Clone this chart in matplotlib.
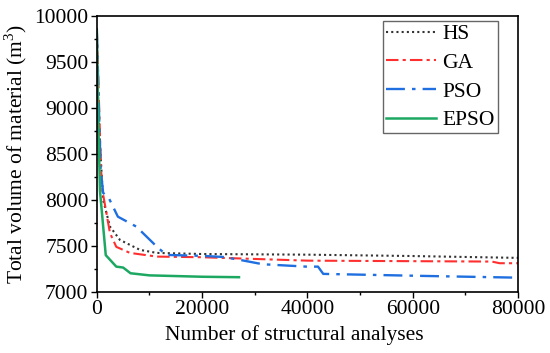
import matplotlib
matplotlib.use("Agg")
import matplotlib.pyplot as plt
from matplotlib.ticker import MultipleLocator

plt.rcParams['font.family'] = ['Liberation Serif', 'DejaVu Serif']
plt.rcParams['mathtext.fontset'] = 'custom'
plt.rcParams['mathtext.rm'] = 'Liberation Serif'

# HS
hs_x = [0, 300, 700, 1200, 2500, 4400, 8200, 11400, 20000, 40000, 60000, 80000]
hs_y = [9800, 9000, 8500, 8000, 7710, 7565, 7457, 7424, 7412, 7405, 7390, 7370]

# GA
ga_x = [0, 300, 600, 950, 2500, 3700, 6300, 11400, 20000, 40000, 75000, 76500, 80000]
ga_y = [9870, 9300, 8700, 8140, 7640, 7490, 7424, 7384, 7377, 7340, 7330, 7312, 7312]

# PSO
pso_x = [0, 300, 700, 1200, 2200, 4000, 7500, 11400, 13200, 20000, 24000,
         27200, 31500, 39800, 42000, 43000, 62000, 80000]
pso_y = [9850, 9200, 8360, 8076, 8030, 7818, 7710, 7492, 7402, 7392, 7380,
         7348, 7301, 7275, 7275, 7196, 7174, 7155]

# EPSO
epso_x = [0, 300, 600, 1700, 3700, 5000, 6400, 10000, 20000, 27000]
epso_y = [9850, 8800, 8100, 7400, 7275, 7265, 7203, 7180, 7165, 7160]

fs = 15.5

fig = plt.figure(figsize=(5.5, 3.53), dpi=100)
ax = fig.add_axes([0.176, 0.173, 0.766, 0.782])

ax.plot(hs_x, hs_y, color='#333333', linestyle=(0, (1, 1.5)), linewidth=1.5, label='HS')
ax.plot(ga_x, ga_y, color='#FF2F2F', linestyle=(0, (6, 2, 1.5, 2)), linewidth=1.5, label='GA')
ax.plot(pso_x, pso_y, color='#1F6FE0', linestyle=(0, (8, 3, 1.5, 3)), linewidth=1.7, label='PSO')
ax.plot(epso_x, epso_y, color='#1DA862', linestyle='-', linewidth=1.8, label='EPSO')

ax.set_xlim(0, 80000)
ax.set_ylim(7000, 10000)
ax.xaxis.set_major_locator(MultipleLocator(20000))
ax.xaxis.set_minor_locator(MultipleLocator(10000))
ax.yaxis.set_major_locator(MultipleLocator(500))
ax.yaxis.set_minor_locator(MultipleLocator(250))
ax.tick_params(which='major', direction='out', length=4, width=1, labelsize=fs, pad=2)
ax.tick_params(which='minor', direction='out', length=2.5, width=1)
for s in ax.spines.values():
    s.set_linewidth(1.2)

ax.set_xlabel('Number of structural analyses', fontsize=fs, labelpad=5)
ax.xaxis.set_label_coords(0.47, -0.12)
ax.set_ylabel('Total volume of material (m$^3$)', fontsize=fs, labelpad=4)

leg = ax.legend(loc='upper right', bbox_to_anchor=(0.952, 0.982), borderaxespad=0,
                fontsize=fs, fancybox=False, edgecolor='#666666', framealpha=1,
                handlelength=2.3, handletextpad=0.3, labelspacing=0.4,
                borderpad=0.15)
leg.get_frame().set_linewidth(1.0)

fig.savefig('out.png', dpi=100)
